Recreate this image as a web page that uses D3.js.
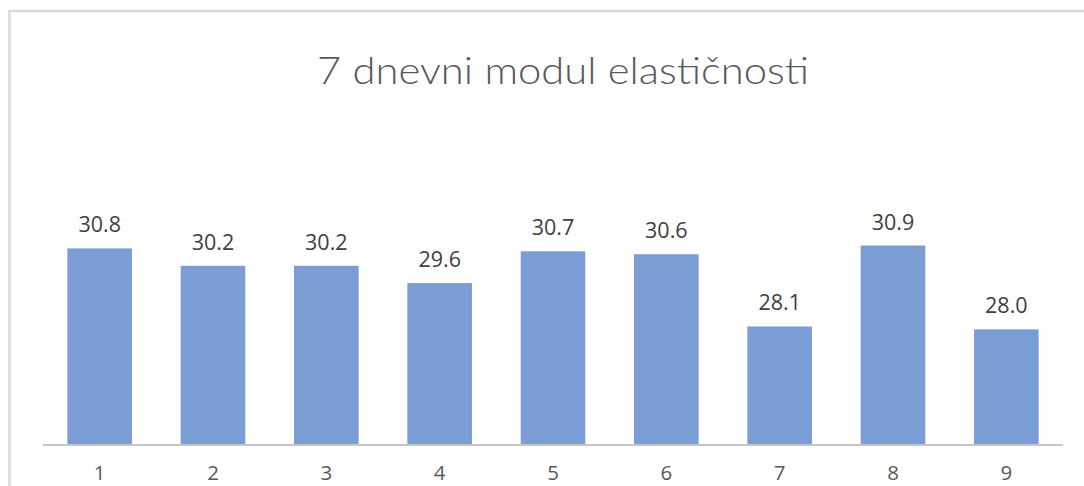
<!DOCTYPE html>
<html>
<head>
<meta charset="utf-8">
<script src="https://cdn.jsdelivr.net/npm/d3@7"></script>
<style>
  html, body { margin: 0; padding: 0; background: #ffffff; }
  svg { display: block; }
</style>
</head>
<body>
<svg id="chart" width="1084" height="486"></svg>
<script>
// Samples 1..9 and their 7-day modulus of elasticity
const categories = ["1", "2", "3", "4", "5", "6", "7", "8", "9"];
const values = [30.8, 30.2, 30.2, 29.6, 30.7, 30.6, 28.1, 30.9, 28.0];
const title = "7 dnevni modul elastičnosti";
const yDomain = [24, 35];

const svg = d3.select("#chart");
const W = 1084, H = 486;
const plot = { left: 43, right: 1063, top: 127, bottom: 445 };

// Chart frame (top and left edges)
svg.append("rect").attr("x", 0).attr("y", 0).attr("width", W).attr("height", H).attr("fill", "#ffffff");
svg.append("line").attr("x1", 8).attr("x2", W).attr("y1", 11).attr("y2", 11)
  .attr("stroke", "#d9d9d9").attr("stroke-width", 2.5);
svg.append("line").attr("x1", 9.5).attr("x2", 9.5).attr("y1", 10).attr("y2", H)
  .attr("stroke", "#d9d9d9").attr("stroke-width", 2.5);

const x = d3.scaleBand().domain(categories).range([plot.left, plot.right]).paddingInner(0.43).paddingOuter(0.215);
const y = d3.scaleLinear().domain(yDomain).range([plot.bottom, plot.top]);

// Title
const t = svg.append("text")
  .attr("x", 563).attr("y", 83.5)
  .attr("text-anchor", "middle")
  .attr("font-family", "Lato, 'Open Sans', sans-serif")
  .attr("font-weight", 300)
  .attr("font-size", 37)
  .attr("fill", "#595959")
  .text(title);
t.attr("textLength", 492).attr("lengthAdjust", "spacingAndGlyphs");

// Bars
svg.append("g").selectAll("rect").data(values).join("rect")
  .attr("x", (d, i) => x(categories[i]))
  .attr("width", x.bandwidth())
  .attr("y", d => y(d))
  .attr("height", d => y(yDomain[0]) - y(d))
  .attr("fill", "#7b9dd6");

// Value labels
svg.append("g").selectAll("text").data(values).join("text")
  .attr("x", (d, i) => x(categories[i]) + x.bandwidth() / 2)
  .attr("y", d => y(d) - 16)
  .attr("text-anchor", "middle")
  .attr("font-family", "'Open Sans', sans-serif")
  .attr("font-size", 21.5)
  .attr("fill", "#404040")
  .text(d => d.toFixed(1));

// Category axis
const xAxis = d3.axisBottom(x).tickSize(0).tickPadding(0);
const ax = svg.append("g").attr("transform", `translate(0,${plot.bottom})`).call(xAxis);
ax.select(".domain").attr("stroke", "#c6c6c6").attr("stroke-width", 2)
  .attr("d", `M${plot.left},0H${plot.right}`);
ax.selectAll(".tick text")
  .attr("y", 35)
  .attr("dy", 0)
  .attr("font-family", "'Open Sans', sans-serif")
  .attr("font-size", 20.5)
  .attr("fill", "#595959");
</script>
</body>
</html>
